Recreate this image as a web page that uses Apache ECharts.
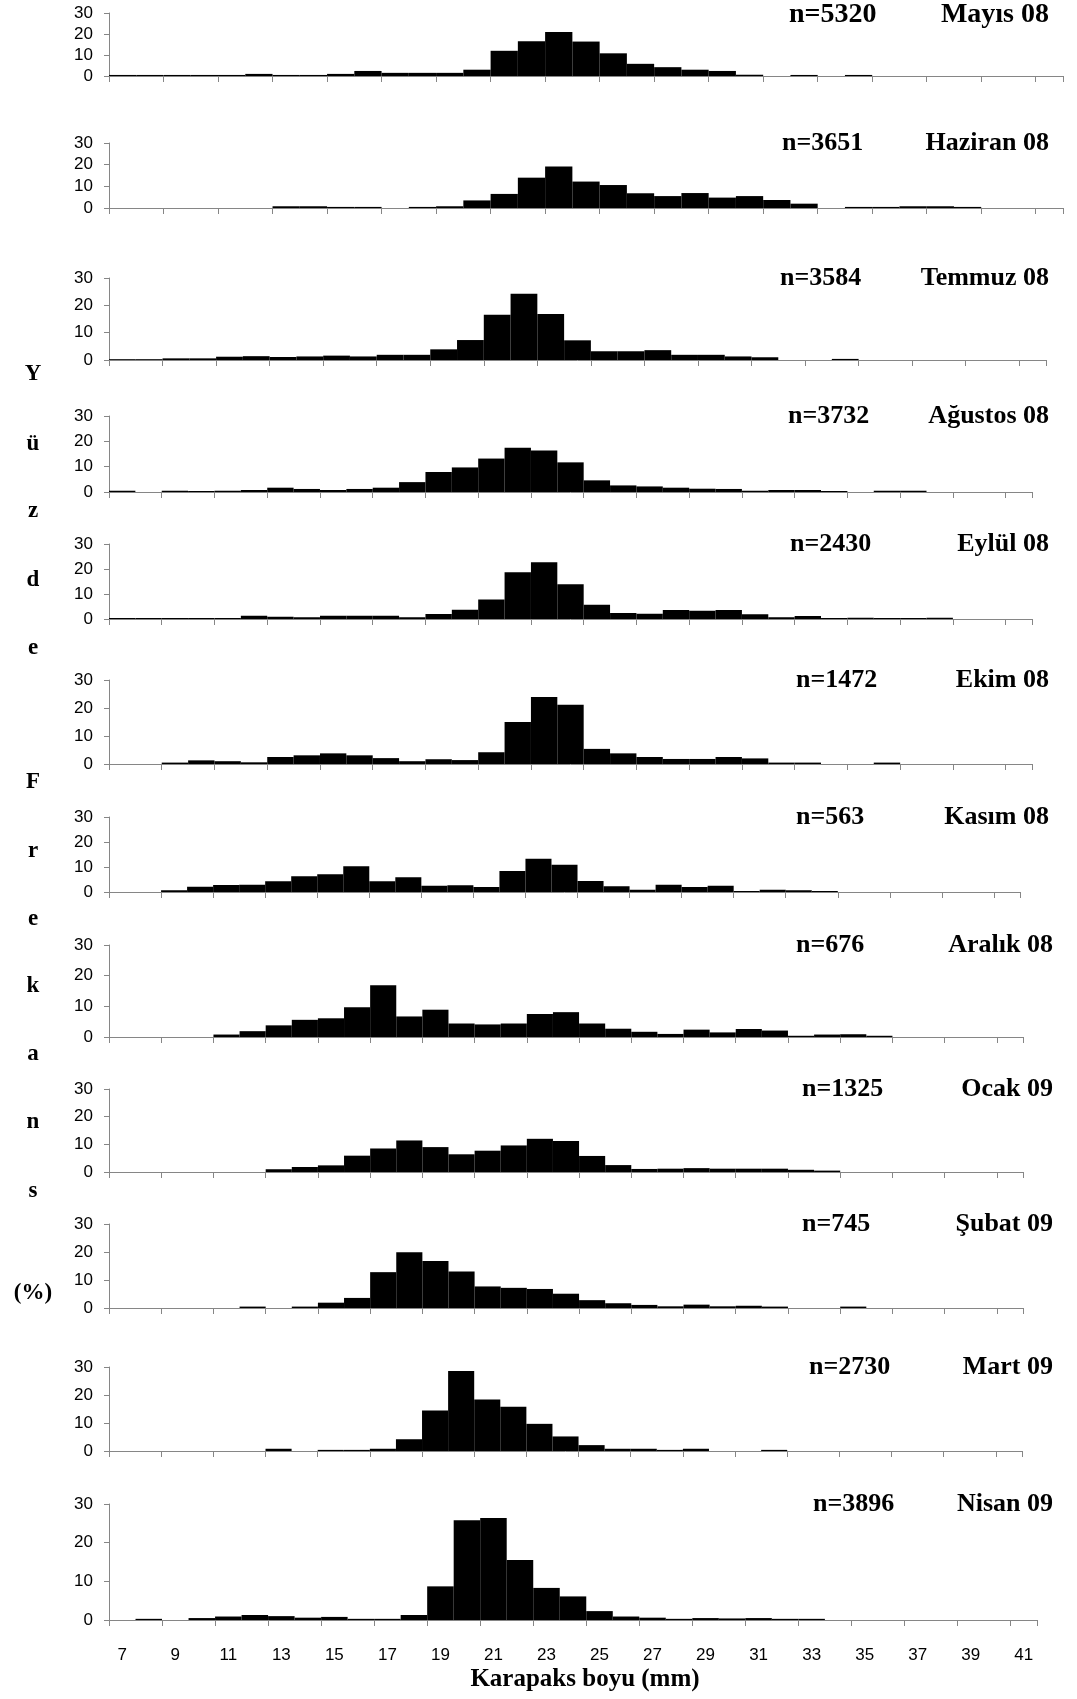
<!DOCTYPE html>
<html>
<head>
<meta charset="utf-8">
<script src="https://cdn.jsdelivr.net/npm/echarts@6/dist/echarts.min.js"></script>
<style>
  html, body { margin: 0; padding: 0; background: #fff; }
  #chart { width: 1077px; height: 1699px; }
</style>
</head>
<body>
<div id="chart"></div>
<script>
  // karapaks boyu sınıfları (mm)
  var categories = ['7','8','9','10','11','12','13','14','15','16','17','18','19','20','21','22','23','24',
    '25','26','27','28','29','30','31','32','33','34','35','36','37','38','39','40','41'];

  // yüzde frekans (%), 7..41 mm
  var mayis08   = [0.5,0.5,0.5,0.5,0.5,1.0,0.5,0.5,1.0,2.4,1.5,1.5,1.5,3.0,12.0,16.5,20.9,16.4,10.8,5.8,4.2,3.0,2.4,0.6,0,0.5,0,0.5,0,0,0,0,0,0,0];
  var haziran08 = [0,0,0,0,0,0,0.8,0.8,0.5,0.5,0,0.5,0.8,3.5,6.5,14.0,19.2,12.2,10.6,6.8,5.5,6.9,4.8,5.5,3.7,2.0,0,0.5,0.5,0.8,0.8,0.5,0,0,0];
  var temmuz08  = [0.3,0.3,0.6,0.6,1.2,1.4,1.1,1.3,1.6,1.3,1.9,1.9,3.9,7.3,16.6,24.2,16.8,7.2,3.2,3.2,3.6,1.9,1.9,1.3,1.0,0,0,0.4,0,0,0,0,0,0,0];
  var agustos08 = [0.5,0,0.5,0.4,0.5,0.8,1.7,1.2,0.8,1.2,1.7,3.9,7.9,9.7,13.2,17.5,16.4,11.7,4.6,2.6,2.2,1.7,1.3,1.2,0.5,0.8,0.8,0.4,0,0.5,0.5,0,0,0,0];
  var eylul08   = [0.4,0.4,0.4,0.4,0.4,1.3,0.9,0.7,1.3,1.3,1.3,0.7,2.0,3.7,7.8,18.7,22.7,13.9,5.7,2.4,2.1,3.6,3.3,3.6,1.9,0.7,1.2,0.4,0.5,0.4,0.4,0.5,0,0,0];
  var ekim08    = [0,0,0.5,1.3,1.0,0.6,2.5,3.1,3.8,3.1,2.1,1.0,1.7,1.4,4.2,15.0,23.9,21.2,5.4,3.8,2.5,1.8,1.8,2.5,2.0,0.5,0.5,0,0,0.5,0,0,0,0,0];
  var kasim08   = [0,0,0.7,2.1,2.8,2.9,4.3,6.3,7.1,10.3,4.3,5.9,2.5,2.7,2.0,8.4,13.3,10.9,4.4,2.3,0.9,2.9,2.0,2.5,0.4,0.9,0.7,0.4,0,0,0,0,0,0,0];
  var aralik08  = [0,0,0,0,0.8,1.9,3.8,5.6,6.1,9.7,16.9,6.7,8.9,4.4,4.1,4.4,7.5,8.1,4.4,2.7,1.7,1.0,2.4,1.5,2.6,2.1,0.4,0.8,0.9,0.4,0,0,0,0,0];
  var ocak09    = [0,0,0,0,0,0,1.0,1.8,2.4,5.9,8.5,11.4,9.0,6.4,7.7,9.6,12.0,11.2,5.8,2.5,1.1,1.2,1.4,1.2,1.2,1.2,0.8,0.5,0,0,0,0,0,0,0];
  var subat09   = [0,0,0,0,0,0.5,0,0.5,1.9,3.6,12.8,19.9,16.8,13.0,7.7,7.2,6.8,5.1,2.8,1.7,1.1,0.6,1.2,0.6,0.8,0.5,0,0,0.5,0,0,0,0,0,0];
  var mart09    = [0,0,0,0,0,0,0.8,0,0.4,0.4,0.8,4.2,14.5,28.6,18.4,15.8,9.7,5.2,2.1,0.8,0.8,0.4,0.8,0,0,0.4,0,0,0,0,0,0,0,0,0];
  var nisan09   = [0,0.3,0,0.5,0.9,1.3,1.0,0.6,0.8,0.3,0.3,1.3,8.7,25.8,26.4,15.5,8.3,6.1,2.3,0.9,0.6,0.3,0.5,0.4,0.5,0.3,0.3,0,0,0,0,0,0,0,0];

  var seriesData = [mayis08, haziran08, temmuz08, agustos08, eylul08, ekim08, kasim08, aralik08, ocak09, subat09, mart09, nisan09];
  var months = ['Mayıs 08','Haziran 08','Temmuz 08','Ağustos 08','Eylül 08','Ekim 08','Kasım 08','Aralık 08','Ocak 09','Şubat 09','Mart 09','Nisan 09'];
  var counts = ['n=5320','n=3651','n=3584','n=3732','n=2430','n=1472','n=563','n=676','n=1325','n=745','n=2730','n=3896'];
  var yTicks = [0, 10, 20, 30];

  // panel yerleşimi (px)
  var panelTop   = [13, 143, 278, 416, 544, 680, 817, 945, 1089, 1224, 1367, 1504];
  var panelBase  = [76, 208, 360, 492, 619, 764, 892, 1037, 1172, 1308, 1451, 1620];
  var panelRight = [1063, 1063, 1046, 1032, 1032, 1032, 1020, 1023, 1023, 1023, 1022, 1037];
  var countLeft  = [789, 782, 780, 788, 790, 796, 796, 796, 802, 802, 809, 813];
  var monthRight = [1049, 1049, 1049, 1049, 1049, 1049, 1049, 1053, 1053, 1053, 1053, 1053];

  var W = 1077, H = 1699;
  var sansFont = 'Liberation Sans';
  var serifFont = 'Liberation Serif';
  var axisGrey = '#868686';

  var chart = echarts.init(document.getElementById('chart'), null, { renderer: 'canvas' });

  var grids = [], xAxes = [], yAxes = [], series = [], titles = [];
  seriesData.forEach(function (data, i) {
    var last = i === seriesData.length - 1;
    grids.push({
      left: 109,
      top: panelTop[i],
      width: panelRight[i] - 109,
      height: panelBase[i] - panelTop[i]
    });
    xAxes.push({
      type: 'category',
      gridIndex: i,
      data: categories,
      boundaryGap: true,
      axisLine: { lineStyle: { color: axisGrey, width: 1 } },
      axisTick: { show: true, interval: 1, length: 6, lineStyle: { color: axisGrey } },
      axisLabel: {
        show: last,
        interval: 1,
        color: '#000',
        fontFamily: sansFont,
        fontSize: 17,
        margin: 27
      },
      splitLine: { show: false }
    });
    yAxes.push({
      type: 'value',
      gridIndex: i,
      min: yTicks[0],
      max: yTicks[yTicks.length - 1],
      interval: 10,
      axisLine: { show: true, lineStyle: { color: axisGrey, width: 1 } },
      axisTick: { show: true, length: 5, lineStyle: { color: axisGrey } },
      axisLabel: { color: '#000', fontFamily: sansFont, fontSize: 17, margin: 16 },
      splitLine: { show: false }
    });
    series.push({
      type: 'bar',
      name: months[i],
      xAxisIndex: i,
      yAxisIndex: i,
      data: data,
      barWidth: '100%',
      barCategoryGap: '0%',
      itemStyle: { color: '#000' },
      silent: true
    });
    var fs = i === 0 ? 28 : 26;
    titles.push({
      text: counts[i],
      left: countLeft[i],
      top: (i === 0 ? panelTop[i] + 2 : panelTop[i]) - fs / 2,
      padding: 0,
      textStyle: { fontFamily: serifFont, fontWeight: 'bold', fontSize: fs, color: '#000' }
    });
    titles.push({
      text: months[i],
      right: W - monthRight[i],
      top: (i === 0 ? panelTop[i] + 2 : panelTop[i]) - fs / 2,
      padding: 0,
      textStyle: { fontFamily: serifFont, fontWeight: 'bold', fontSize: fs, color: '#000' }
    });
  });

  // dikey eksen başlığı: "Yüzde Frekans (%)" harf harf
  var yLetters = ['Y','ü','z','d','e','F','r','e','k','a','n','s','(%)'];
  var yLetterPos = [374, 444, 511, 580, 648, 782, 851, 919, 986, 1054, 1122, 1191, 1293];
  var graphics = yLetters.map(function (ch, k) {
    return {
      type: 'text',
      x: 33,
      y: yLetterPos[k],
      style: {
        text: ch,
        fill: '#000',
        font: 'bold 23px "' + serifFont + '"',
        textAlign: 'center',
        textVerticalAlign: 'middle'
      }
    };
  });
  graphics.push({
    type: 'text',
    x: 585,
    y: 1680,
    style: {
      text: 'Karapaks boyu (mm)',
      fill: '#000',
      font: 'bold 25px "' + serifFont + '"',
      textAlign: 'center',
      textVerticalAlign: 'middle'
    }
  });

  chart.setOption({
    backgroundColor: '#fff',
    animation: false,
    title: titles,
    grid: grids,
    xAxis: xAxes,
    yAxis: yAxes,
    series: series,
    graphic: graphics
  });
</script>
</body>
</html>
